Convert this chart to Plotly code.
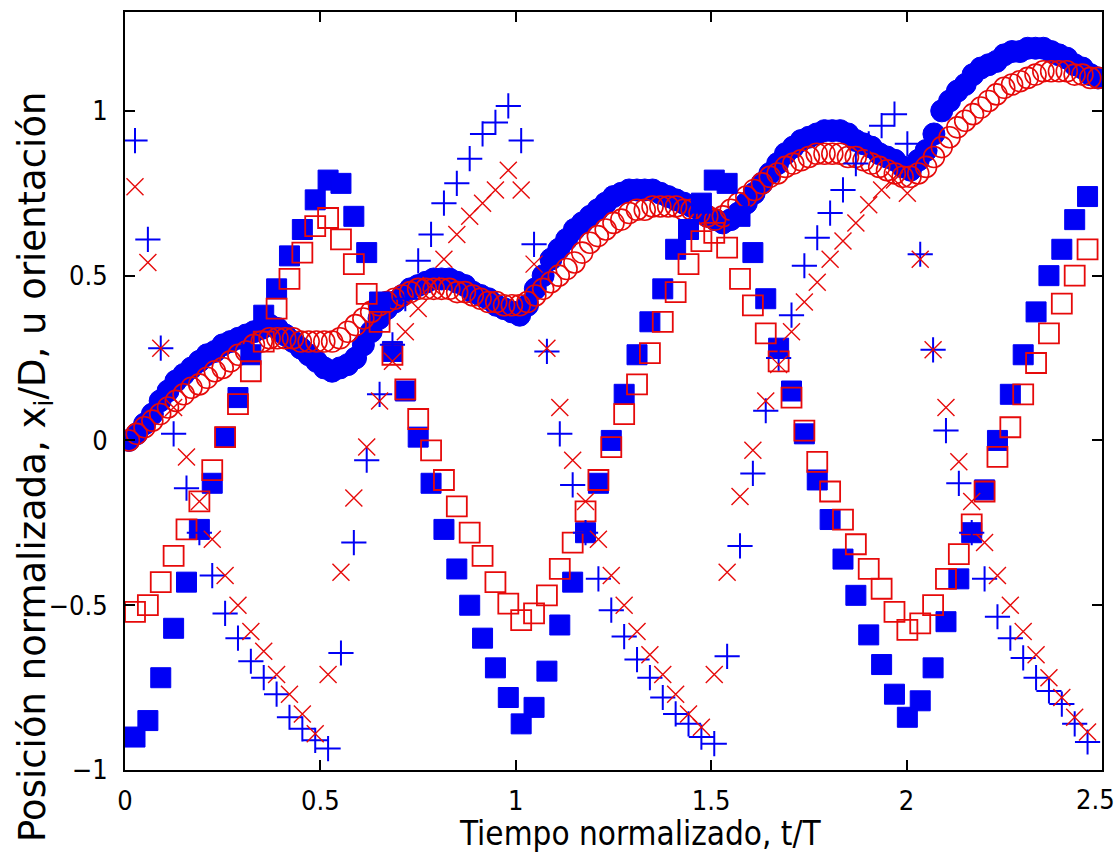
import numpy as np
import plotly.graph_objects as go

# ---- position curves (dense sampling) ----
tc_start, tc_step = 0.01, 0.02
x1_blue = [0.00, 0.02, 0.05, 0.08, 0.12, 0.15, 0.18, 0.20, 0.22, 0.24,
           0.26, 0.27, 0.29, 0.30, 0.31, 0.32, 0.33, 0.34, 0.35, 0.34,
           0.32, 0.30, 0.28, 0.26, 0.24, 0.22, 0.21, 0.22, 0.23, 0.25,
           0.29, 0.33, 0.37, 0.40, 0.42, 0.44, 0.46, 0.47, 0.48, 0.49,
           0.49, 0.49, 0.48, 0.47, 0.45, 0.44, 0.43, 0.41, 0.40, 0.39,
           0.38, 0.41, 0.46, 0.50, 0.55, 0.58, 0.61, 0.64, 0.66, 0.68,
           0.70, 0.72, 0.74, 0.75, 0.76, 0.76, 0.76, 0.76, 0.75, 0.74,
           0.73, 0.72, 0.71, 0.70, 0.68, 0.67, 0.66, 0.67, 0.69, 0.72,
           0.75, 0.78, 0.81, 0.84, 0.87, 0.89, 0.91, 0.92, 0.93, 0.94,
           0.94, 0.94, 0.93, 0.91, 0.90, 0.89, 0.87, 0.86, 0.85, 0.83,
           0.82, 0.85, 0.88, 0.93, 1.00, 1.03, 1.06, 1.08, 1.11, 1.13,
           1.14, 1.15, 1.17, 1.18, 1.18, 1.19, 1.19, 1.19, 1.18, 1.17,
           1.16, 1.14, 1.13, 1.11, 1.10]
x2_red = [0.00, 0.02, 0.04, 0.06, 0.08, 0.10, 0.12, 0.14, 0.16, 0.17,
          0.19, 0.21, 0.22, 0.24, 0.26, 0.27, 0.29, 0.30, 0.31, 0.31,
          0.31, 0.31, 0.30, 0.30, 0.30, 0.30, 0.30, 0.31, 0.33, 0.35,
          0.37, 0.39, 0.41, 0.42, 0.43, 0.44, 0.45, 0.46, 0.46, 0.46,
          0.46, 0.46, 0.45, 0.45, 0.44, 0.43, 0.42, 0.42, 0.41, 0.41,
          0.41, 0.42, 0.44, 0.46, 0.48, 0.50, 0.52, 0.54, 0.57, 0.60,
          0.62, 0.64, 0.66, 0.67, 0.69, 0.70, 0.70, 0.71, 0.71, 0.71,
          0.71, 0.70, 0.70, 0.69, 0.68, 0.67, 0.68, 0.70, 0.72, 0.74,
          0.76, 0.78, 0.80, 0.81, 0.83, 0.84, 0.85, 0.86, 0.87, 0.87,
          0.87, 0.87, 0.86, 0.86, 0.85, 0.84, 0.83, 0.82, 0.81, 0.80,
          0.80, 0.81, 0.83, 0.86, 0.89, 0.92, 0.95, 0.97, 0.99, 1.01,
          1.03, 1.05, 1.07, 1.08, 1.09, 1.10, 1.11, 1.12, 1.12, 1.12,
          1.12, 1.11, 1.11, 1.10, 1.10]

# ---- orientation series (coarser sampling) ----
ts_start, ts_step = 0.0256, 0.03294
sq_blue = [-0.90, -0.85, -0.72, -0.57, -0.43, -0.27, -0.13, 0.01, 0.13, 0.26,
           0.38, 0.46, 0.56, 0.64, 0.73, 0.79, 0.78, 0.68, 0.57, 0.42,
           0.27, 0.15, 0.01, -0.13, -0.27, -0.39, -0.50, -0.60, -0.69, -0.78,
           -0.86, -0.81, -0.70, -0.56, -0.43, -0.28, -0.13, 0.00, 0.14, 0.26,
           0.36, 0.46, 0.58, 0.64, 0.72, 0.79, 0.78, 0.68, 0.57, 0.43,
           0.28, 0.15, 0.02, -0.12, -0.24, -0.36, -0.47, -0.59, -0.68, -0.77,
           -0.84, -0.79, -0.69, -0.55, -0.42, -0.28, -0.15, 0.00, 0.14, 0.26,
           0.39, 0.50, 0.58, 0.67, 0.74]
sq_red = [-0.52, -0.50, -0.43, -0.35, -0.27, -0.185, -0.09, 0.01, 0.11, 0.21,
          0.30, 0.40, 0.49, 0.57, 0.65, 0.675, 0.61, 0.535, 0.445, 0.36,
          0.26, 0.155, 0.065, -0.03, -0.12, -0.20, -0.28, -0.35, -0.43, -0.495,
          -0.545, -0.525, -0.47, -0.39, -0.31, -0.215, -0.12, -0.02, 0.08, 0.17,
          0.265, 0.36, 0.45, 0.535, 0.605, 0.63, 0.585, 0.49, 0.41, 0.325,
          0.24, 0.13, 0.03, -0.065, -0.155, -0.24, -0.315, -0.39, -0.45, -0.52,
          -0.575, -0.555, -0.50, -0.42, -0.345, -0.255, -0.155, -0.05, 0.04, 0.14,
          0.235, 0.325, 0.415, 0.50, 0.58]
plus_blue = [0.91, 0.61, 0.28, 0.02, -0.145, -0.28, -0.41, -0.525, -0.60, -0.67,
             -0.72, -0.77, -0.84, -0.875, -0.91, -0.935, -0.645, -0.31, -0.06, 0.14,
             0.29, 0.43, 0.545, 0.625, 0.72, 0.78, 0.855, 0.93, 0.965, 1.015,
             0.91, 0.595, 0.27, 0.02, -0.135, -0.28, -0.42, -0.515, -0.595, -0.665,
             -0.72, -0.78, -0.83, -0.86, -0.90, -0.92, -0.655, -0.32, -0.10, 0.09,
             0.25, 0.38, 0.53, 0.615, 0.69, 0.76, 0.84, 0.90, 0.955, 0.99,
             0.90, 0.565, 0.275, 0.03, -0.13, -0.28, -0.42, -0.535, -0.60, -0.66,
             -0.72, -0.76, -0.80, -0.86, -0.915]
x_red = [0.77, 0.54, 0.28, 0.10, -0.05, -0.185, -0.30, -0.41, -0.50, -0.58,
         -0.64, -0.71, -0.77, -0.83, -0.89, -0.71, -0.40, -0.175, -0.02, 0.12,
         0.24, 0.33, 0.40, 0.47, 0.55, 0.625, 0.68, 0.72, 0.76, 0.82,
         0.76, 0.535, 0.28, 0.10, -0.06, -0.185, -0.30, -0.41, -0.50, -0.58,
         -0.65, -0.71, -0.77, -0.83, -0.87, -0.71, -0.40, -0.17, -0.03, 0.12,
         0.23, 0.33, 0.42, 0.48, 0.55, 0.605, 0.66, 0.715, 0.76, 0.79,
         0.75, 0.55, 0.275, 0.10, -0.065, -0.185, -0.31, -0.41, -0.50, -0.58,
         -0.65, -0.72, -0.78, -0.84, -0.885]

x_ticks = [0, 0.5, 1, 1.5, 2, 2.5]
x_tick_text = ["0", "0.5", "1", "1.5", "2", ""]   # last label drawn as annotation
last_x_label = "2.5"
y_ticks = [-1, -0.5, 0, 0.5, 1]

tc = tc_start + tc_step * np.arange(len(x1_blue))
ts = ts_start + ts_step * np.arange(len(sq_blue))

BLUE = "rgb(0,0,245)"
RED = "rgb(230,10,10)"

fig = go.Figure()
fig.add_trace(go.Scatter(x=tc, y=x1_blue, mode="markers",
                         marker=dict(symbol="circle", size=22, color=BLUE,
                                     line=dict(color=BLUE, width=1))))
fig.add_trace(go.Scatter(x=tc, y=x2_red, mode="markers",
                         marker=dict(symbol="circle-open", size=21, color=RED,
                                     line=dict(color=RED, width=1.6))))
fig.add_trace(go.Scatter(x=ts, y=sq_blue, mode="markers",
                         marker=dict(symbol="square", size=20, color=BLUE,
                                     line=dict(color=BLUE, width=1))))
fig.add_trace(go.Scatter(x=ts, y=sq_red, mode="markers",
                         marker=dict(symbol="square-open", size=20, color=RED,
                                     line=dict(color=RED, width=1.8))))
fig.add_trace(go.Scatter(x=ts, y=plus_blue, mode="markers",
                         marker=dict(symbol="cross-thin-open", size=18, color=BLUE,
                                     line=dict(color=BLUE, width=2))))
fig.add_trace(go.Scatter(x=ts, y=x_red, mode="markers",
                         marker=dict(symbol="x-thin-open", size=17, color=RED,
                                     line=dict(color=RED, width=1.4))))

FONT = "DejaVu Sans Condensed, Liberation Sans Narrow, DejaVu Sans"
tick_font = dict(family=FONT, size=27, color="black")
axis_common = dict(showgrid=False, zeroline=False, showline=True, linecolor="black",
                   linewidth=2, mirror="ticks", ticks="inside", ticklen=10,
                   tickwidth=1.5, tickcolor="black", tickfont=tick_font,
                   automargin=False)

fig.update_layout(
    width=1118, height=856,
    margin=dict(l=125, r=16, t=12, b=86, autoexpand=False),
    paper_bgcolor="white", plot_bgcolor="white",
    showlegend=False,
    xaxis=dict(range=[0, 2.5001], tickvals=x_ticks, ticktext=x_tick_text,
               ticklabelstandoff=6, **axis_common),
    yaxis=dict(range=[-1, 1.3], tickvals=y_ticks, ticklabelstandoff=10, **axis_common),
    annotations=[
        dict(text=last_x_label, xref="paper", yref="paper", x=1, y=0,
             xanchor="right", yanchor="top", xshift=15, yshift=-12, showarrow=False,
             font=tick_font),
        dict(text="Tiempo normalizado, t/T", xref="paper", yref="paper",
             x=0.527, y=-0.084, xanchor="center", yanchor="middle", showarrow=False,
             font=dict(family=FONT, size=33, color="black")),
        dict(text="Posición normalizada, x<sub>i</sub>/D, u orientación", xref="paper",
             yref="paper", x=-0.092, y=0.40, xanchor="center", yanchor="middle",
             textangle=-90, showarrow=False,
             font=dict(family="DejaVu Sans", size=37, color="black")),
    ],
)

fig.write_html("out.html")
